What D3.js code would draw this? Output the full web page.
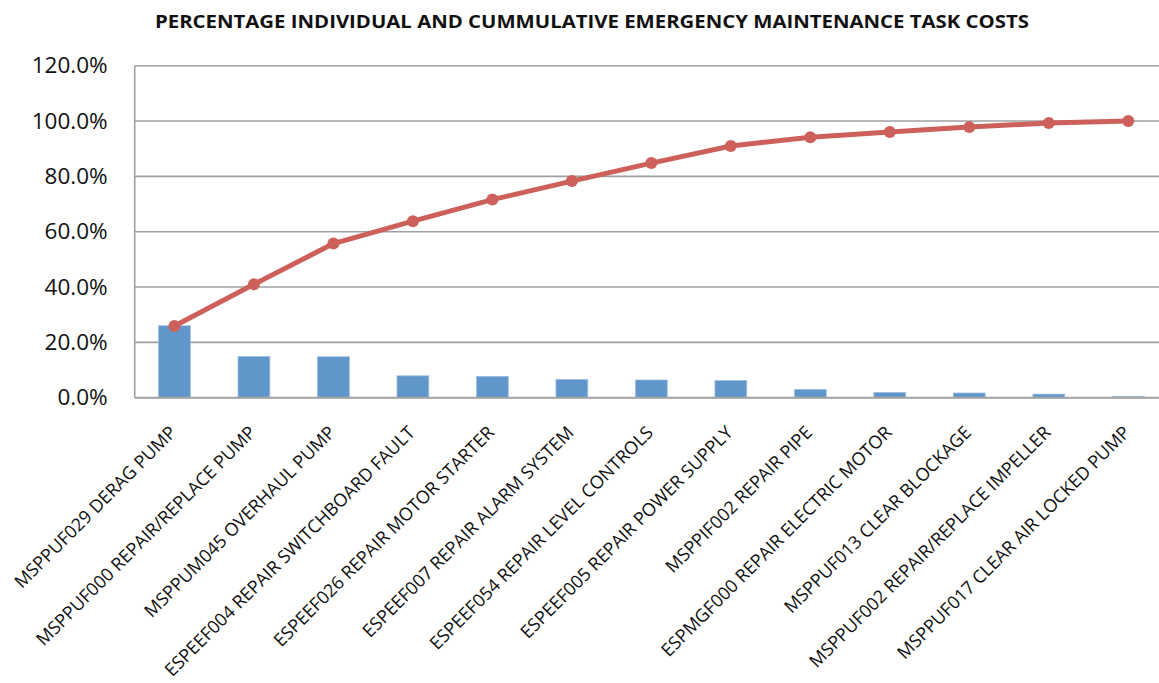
<!DOCTYPE html>
<html>
<head>
<meta charset="utf-8">
<script src="https://cdn.jsdelivr.net/npm/d3@7"></script>
<style>
  body { margin: 0; background: #fff; }
  svg text { font-family: "Open Sans", "Noto Sans", sans-serif; fill: #111; }
  .grid line { stroke: #a0a0a0; stroke-width: 1.6; }
  .yAxis text { font-size: 22.5px; }
  .xLabel { font-size: 18px; }
</style>
</head>
<body>
<div id="chart"></div>
<script>
const tasks = [
  "MSPPUF029 DERAG PUMP",
  "MSPPUF000 REPAIR/REPLACE PUMP",
  "MSPPUM045 OVERHAUL PUMP",
  "ESPEEF004 REPAIR SWITCHBOARD FAULT",
  "ESPEEF026 REPAIR MOTOR STARTER",
  "ESPEEF007 REPAIR ALARM SYSTEM",
  "ESPEEF054 REPAIR LEVEL CONTROLS",
  "ESPEEF005 REPAIR POWER SUPPLY",
  "MSPPIF002 REPAIR PIPE",
  "ESPMGF000 REPAIR ELECTRIC MOTOR",
  "MSPPUF013 CLEAR BLOCKAGE",
  "MSPPUF002 REPAIR/REPLACE IMPELLER",
  "MSPPUF017 CLEAR AIR LOCKED PUMP"
];
// individual % of cost (bars)
const individual = [26.0, 14.9, 14.8, 7.9, 7.7, 6.6, 6.4, 6.2, 3.0, 1.9, 1.7, 1.3, 0.5];
// cumulative % (line)
const cumulative = [25.9, 41.0, 55.7, 63.8, 71.6, 78.3, 84.8, 91.0, 94.1, 96.0, 97.8, 99.3, 100.0];
const yTicks = [0, 20, 40, 60, 80, 100, 120];

const W = 1159, H = 683;
const plot = { left: 134.7, right: 1168, top: 65.7, bottom: 397.7 };

const svg = d3.select("#chart").append("svg")
  .attr("width", W).attr("height", H);

svg.append("text")
  .attr("x", 592).attr("y", 28)
  .attr("text-anchor", "middle")
  .attr("font-weight", "bold")
  .attr("font-size", 17.5)
  .attr("textLength", 874)
  .attr("lengthAdjust", "spacingAndGlyphs")
  .text("PERCENTAGE INDIVIDUAL AND CUMMULATIVE EMERGENCY MAINTENANCE TASK COSTS");

const x = d3.scaleBand()
  .domain(tasks)
  .range([plot.left, plot.right])
  .paddingInner(0.6)
  .paddingOuter(0.3);

const y = d3.scaleLinear()
  .domain([0, 120])
  .range([plot.bottom, plot.top]);

// gridlines
svg.append("g").attr("class", "grid")
  .selectAll("line").data(yTicks).join("line")
  .attr("x1", plot.left).attr("x2", W)
  .attr("y1", d => y(d)).attr("y2", d => y(d));

// y axis line
svg.append("line")
  .attr("x1", plot.left).attr("x2", plot.left)
  .attr("y1", plot.top).attr("y2", plot.bottom)
  .attr("stroke", "#a0a0a0").attr("stroke-width", 1.6);

// y axis labels
const yAxis = svg.append("g").attr("class", "yAxis")
  .attr("transform", `translate(${plot.left},0)`)
  .call(d3.axisLeft(y).tickValues(yTicks).tickSize(0).tickPadding(27)
    .tickFormat(d => d.toFixed(1) + "%"));
yAxis.select(".domain").remove();
yAxis.attr("font-family", null).attr("font-size", null);

// bars
svg.append("g")
  .selectAll("rect").data(individual).join("rect")
  .attr("x", (d, i) => x(tasks[i]))
  .attr("y", d => y(d))
  .attr("width", x.bandwidth())
  .attr("height", d => y(0) - y(d))
  .attr("fill", "#6096ca")
  .attr("stroke", "#9dbde0")
  .attr("stroke-width", 0.8);

// x baseline
svg.append("line")
  .attr("x1", plot.left).attr("x2", W)
  .attr("y1", plot.bottom).attr("y2", plot.bottom)
  .attr("stroke", "#a6a6a6").attr("stroke-width", 2);

// cumulative line
const line = d3.line()
  .x((d, i) => x(tasks[i]) + x.bandwidth() / 2)
  .y(d => y(d));

svg.append("path")
  .datum(cumulative)
  .attr("d", line)
  .attr("fill", "none")
  .attr("stroke", "#cd605a")
  .attr("stroke-width", 5)
  .attr("stroke-linejoin", "round");

svg.append("g")
  .selectAll("circle").data(cumulative).join("circle")
  .attr("cx", (d, i) => x(tasks[i]) + x.bandwidth() / 2)
  .attr("cy", d => y(d))
  .attr("r", 6)
  .attr("fill", "#cd605a");

// x labels, rotated
svg.append("g")
  .selectAll("text").data(tasks).join("text")
  .attr("class", "xLabel")
  .attr("text-anchor", "end")
  .attr("transform", d => `translate(${x(d) + x.bandwidth() / 2 + 3},${plot.bottom + 36}) rotate(-45)`)
  .text(d => d);
</script>
</body>
</html>
